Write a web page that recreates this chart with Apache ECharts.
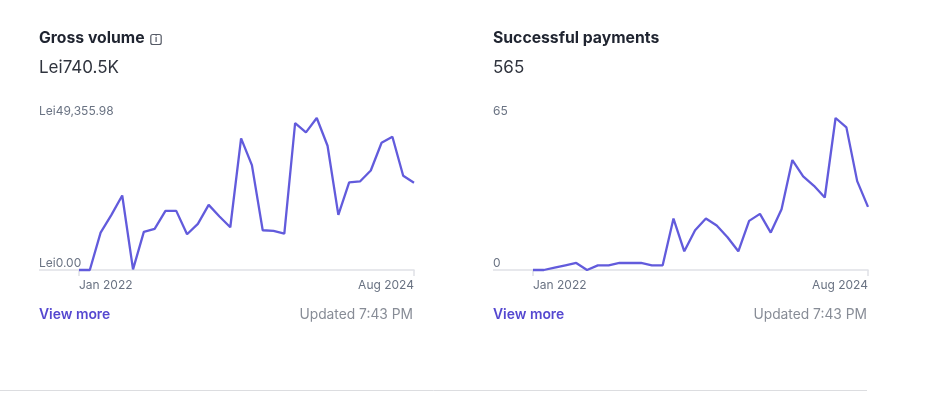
<!DOCTYPE html>
<html>
<head>
<meta charset="utf-8">
<style>html,body{margin:0;padding:0;background:#fff}#c{width:937px;height:395px}</style>
<script src="https://cdn.jsdelivr.net/npm/echarts@6/dist/echarts.min.js"></script>
</head>
<body>
<div id="c"></div>
<script>
const months = ['Jan 2022','Feb 2022','Mar 2022','Apr 2022','May 2022','Jun 2022','Jul 2022','Aug 2022','Sep 2022','Oct 2022','Nov 2022','Dec 2022',
  'Jan 2023','Feb 2023','Mar 2023','Apr 2023','May 2023','Jun 2023','Jul 2023','Aug 2023','Sep 2023','Oct 2023','Nov 2023','Dec 2023',
  'Jan 2024','Feb 2024','Mar 2024','Apr 2024','May 2024','Jun 2024','Jul 2024','Aug 2024'];
const grossVolume = [0,0,12150,17900,24190,220,12370,13340,19200,19200,11610,14970,21150,17360,13880,42740,34060,12910,12690,11820,47730,44690,49355.98,40350,17900,28420,28750,32320,41330,43280,30590,28310];
const payments = [0,0,1,2,3,0,2,2,3,3,3,2,2,22,8,17,22,19,14,8,21,24,16,26,47,40,36,31,65,61,38,27];
const grossTicks = ['Lei0.00','Lei49,355.98'];
const paymentTicks = ['0','65'];

const FONT = 'Inter, "Noto Sans", sans-serif';
const LINE = '#625bdc', AXIS = '#dfe1e6', MUTED = '#6a7383', UPDATED = '#878c96', DARK = '#1f2430', LINK = '#5548d0';

function cartesian(i, left, right, values, ticks) {
  const last = months.length - 1;
  return {
    grid: {left, width: right - left, top: 118, height: 152, containLabel: false},
    x: {
      type: 'category', gridIndex: i, data: months, boundaryGap: false,
      axisLine: {show: true, lineStyle: {color: AXIS, width: 1.5}},
      axisTick: {show: true, length: 6, lineStyle: {color: AXIS, width: 1.5}, interval: (k) => k === 0 || k === last},
      axisLabel: {
        color: MUTED, fontFamily: FONT, fontSize: 12, margin: 9,
        interval: (k) => k === 0 || k === last,
        alignMinLabel: 'left', alignMaxLabel: 'right', showMinLabel: true, showMaxLabel: true
      },
      splitLine: {show: false}
    },
    y: {
      type: 'value', gridIndex: i, min: 0, max: values.reduce((a, b) => Math.max(a, b), 0),
      interval: values.reduce((a, b) => Math.max(a, b), 0),
      axisLine: {show: false}, axisTick: {show: false}, splitLine: {show: false},
      axisLabel: {
        color: MUTED, fontFamily: FONT, fontSize: 12, margin: left - (i === 0 ? 39 : 493),
        align: 'left', verticalAlign: 'bottom', lineHeight: 14, padding: [0, 0, 0, 0],
        showMinLabel: true, showMaxLabel: true,
        formatter: (v) => (v === 0 ? ticks[0] : ticks[1])
      }
    },
    s: {
      type: 'line', xAxisIndex: i, yAxisIndex: i, data: values, showSymbol: false, smooth: false,
      clip: false, lineStyle: {color: LINE, width: 2.3}, itemStyle: {color: LINE}, silent: true, animation: false
    }
  };
}

const a = cartesian(0, 79, 414, grossVolume, grossTicks);
const b = cartesian(1, 533, 868, payments, paymentTicks);

function txt(x, y, text, size, weight, fill, align) {
  return {type: 'text', x, y, silent: true, style: {text, fontFamily: FONT, fontSize: size, fontWeight: weight, fill, textAlign: align || 'left', textVerticalAlign: 'middle'}};
}
function hline(x1, x2, y, color, w) {
  return {type: 'line', silent: true, shape: {x1, y1: y, x2, y2: y}, style: {stroke: color, lineWidth: w}};
}

const chart = echarts.init(document.getElementById('c'), null, {renderer: 'canvas'});
chart.setOption({
  animation: false,
  backgroundColor: '#fff',
  grid: [a.grid, b.grid],
  xAxis: [a.x, b.x],
  yAxis: [a.y, b.y],
  series: [a.s, b.s],
  graphic: [
    hline(39, 79, 270, AXIS, 1.5),
    hline(493, 533, 270, AXIS, 1.5),
    hline(0, 867, 390.5, '#dcdde0', 1),
    txt(39, 38.5, 'Gross volume', 15.75, 700, DARK),
    txt(39, 68, 'Lei740.5K', 17, 400, '#30343e'),
    {type: 'rect', silent: true, shape: {x: 150.8, y: 34.5, width: 10.4, height: 10, r: 2}, style: {fill: 'none', stroke: '#555a66', lineWidth: 1.2}},
    txt(156, 39.7, 'i', 8, 700, '#555a66', 'center'),
    txt(39, 314.5, 'View more', 13.9, 600, LINK),
    txt(413, 314.5, 'Updated 7:43 PM', 13.8, 400, UPDATED, 'right'),
    txt(493, 38.5, 'Successful payments', 15.75, 700, DARK),
    txt(493, 68, '565', 17, 400, '#30343e'),
    txt(493, 314.5, 'View more', 13.9, 600, LINK),
    txt(867, 314.5, 'Updated 7:43 PM', 13.8, 400, UPDATED, 'right')
  ]
});
</script>
</body>
</html>
